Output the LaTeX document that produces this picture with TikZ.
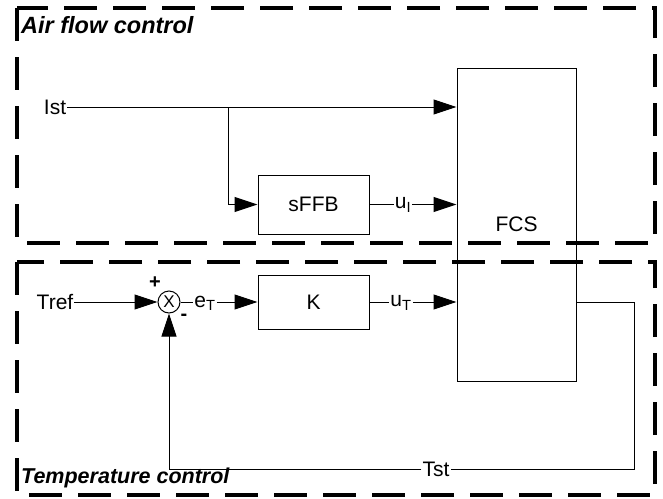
\documentclass[tikz,border=0pt]{standalone}
\usepackage{fontspec}
\setmainfont{Liberation Sans}
\usetikzlibrary{arrows.meta,calc}
\begin{document}
\begin{tikzpicture}[x=1pt,y=-1pt,
  blk/.style={draw,line width=1pt,inner sep=0pt,font=\fontsize{21}{21}\selectfont},
  lbl/.style={inner sep=1pt,font=\fontsize{21}{21}\selectfont},
  wire/.style={line width=1pt},
  arr/.style={wire,-{Triangle[length=23pt,width=15pt]}},
  zone/.style={line width=4pt,dash pattern=on 33pt off 16pt},
  ttl/.style={inner sep=0pt,anchor=west,font=\bfseries\itshape}]
\useasboundingbox (0,0) rectangle (663,498);
% zones
\draw[zone] (17,8) rectangle (655,243);
\draw[zone] (17,262) rectangle (655,495);
\node[ttl,font=\fontsize{23.5}{23.5}\selectfont\bfseries\itshape] (t1) at (21,25) {Air flow control};
\node[ttl,font=\fontsize{21.5}{21.5}\selectfont\bfseries\itshape] (t2) at (21,478) {Temperature control};
% blocks
\node[blk,minimum width=111pt,minimum height=59pt] (sffb) at (313.5,204.5) {sFFB};
\node[blk,minimum width=111pt,minimum height=54pt] (k) at (313.5,302) {K};
\node[blk,minimum width=119pt,minimum height=313pt] (fcs) at (516.5,224.5) {FCS};
\node[draw,circle,line width=1pt,minimum size=22pt,inner sep=0pt,font=\fontsize{17}{17}\selectfont] (sum) at (169,302) {X};
% labels
\node[lbl] (ist) at (55,107) {Ist};
\node[lbl] (tref) at (55,302) {Tref};
\node[lbl] (uI) at (403,205) {u\textsubscript{I}};
\node[lbl] (eT) at (205,303) {e\textsubscript{T}};
\node[lbl] (uT) at (401,303) {u\textsubscript{T}};
\node[lbl] (tst) at (436,469) {Tst};
\node[inner sep=0pt,font=\fontsize{20}{20}\selectfont\bfseries] (plus) at (155,283) {+};
\node[inner sep=0pt,font=\fontsize{20}{20}\selectfont\bfseries] (minus) at (184,317) {-};
% coordinates
\coordinate (br) at (228,107);
\coordinate (c1) at (634,302);
\coordinate (c2) at (634,469);
\coordinate (c3) at (169,469);
% air flow
\draw[arr] (ist.east) -- (ist.east -| fcs.west);
\draw[arr] (br) |- (sffb.west);
\draw[wire] (sffb.east) -- (uI.west |- sffb.east);
\draw[arr] (uI.east |- sffb.east) -- (sffb.east -| fcs.west);
% temperature
\draw[arr] (tref.east |- sum.west) -- (sum.west);
\draw[wire] (sum.east) -- (eT.west |- sum.east);
\draw[arr] (eT.east |- sum.east) -- (k.west);
\draw[wire] (k.east) -- (uT.west |- k.east);
\draw[arr] (uT.east |- k.east) -- (k.east -| fcs.west);
\draw[wire] (fcs.east |- c1) -- (c1) -- (c2) -- (tst.east |- c2);
\draw[wire] (tst.west |- c3) -- (c3);
\draw[arr] (c3) -- (sum.south);
\end{tikzpicture}
\end{document}
